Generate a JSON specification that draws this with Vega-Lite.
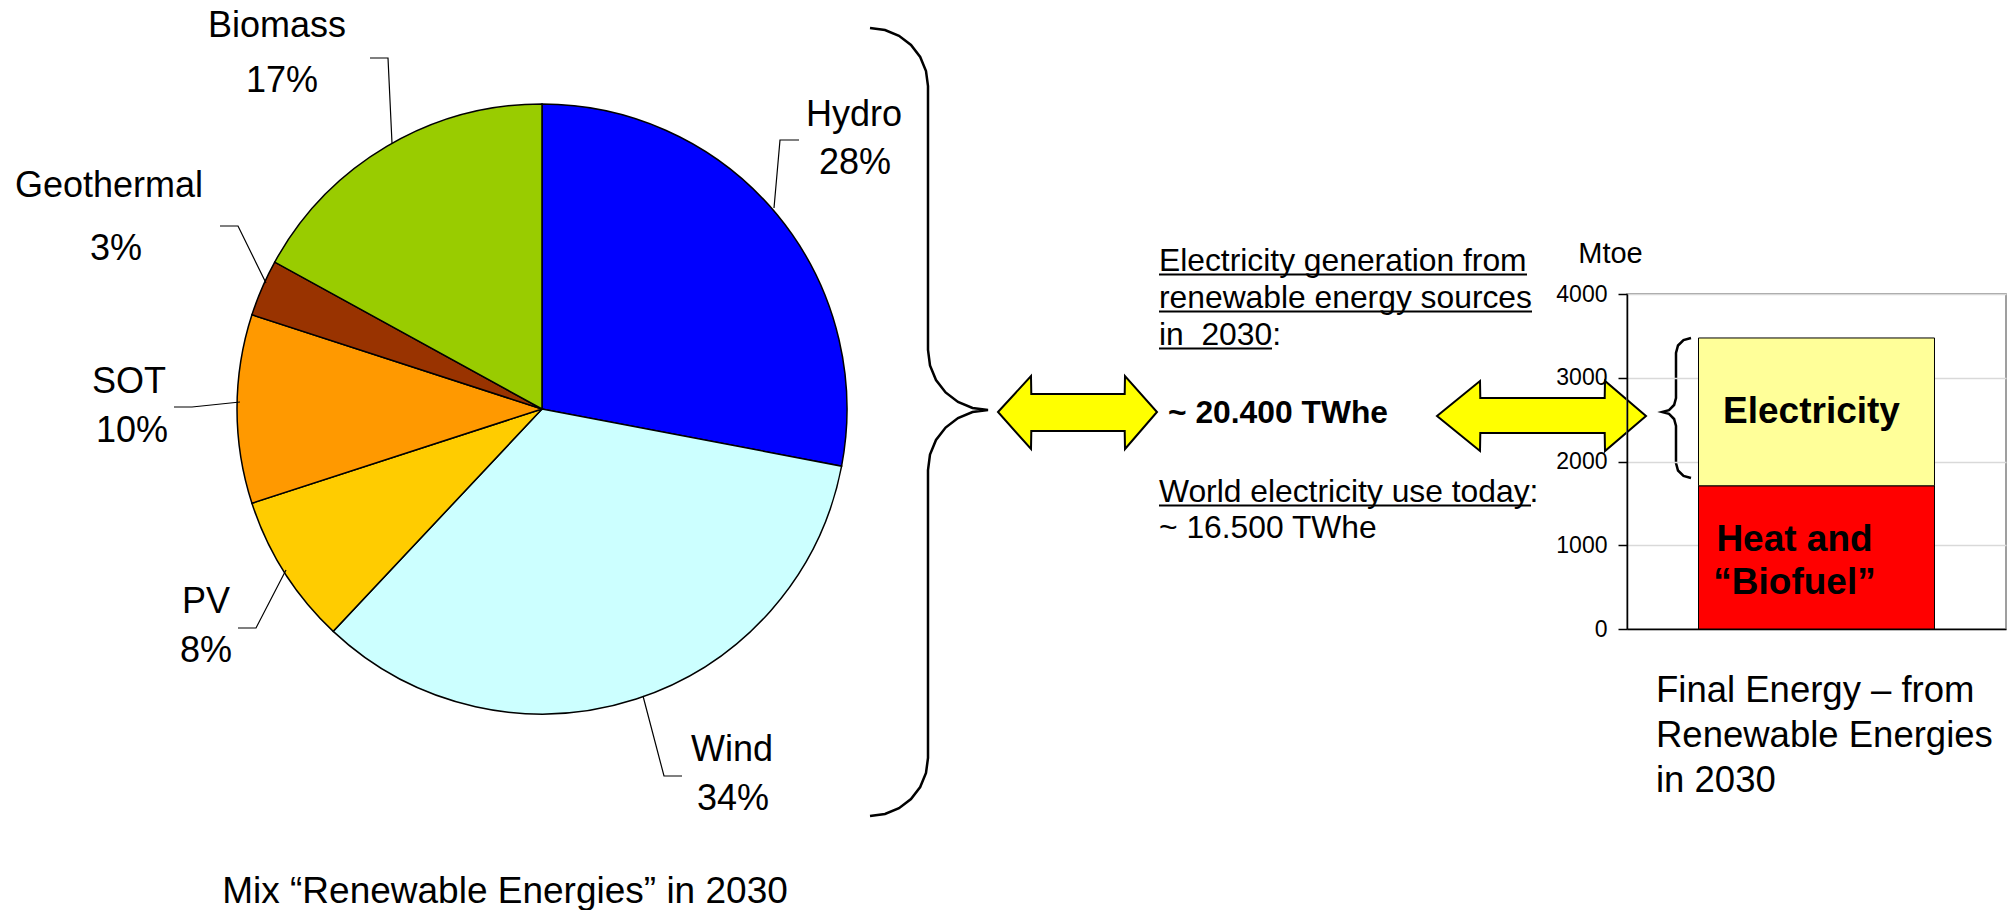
{
  "$schema": "https://vega.github.io/schema/vega-lite/v6.json",
  "background": "white",
  "padding": 0,
  "bounds": "flush",
  "spacing": 543,
  "resolve": {"scale": {"color": "independent"}},
  "config": {"view": {"stroke": null}, "font": "Liberation Sans"},
  "datasets": {
    "mix": [
      {"source": "Hydro", "share": 0.28, "rank": 1},
      {"source": "Wind", "share": 0.34, "rank": 2},
      {"source": "PV", "share": 0.08, "rank": 3},
      {"source": "SOT", "share": 0.10, "rank": 4},
      {"source": "Geothermal", "share": 0.03, "rank": 5},
      {"source": "Biomass", "share": 0.17, "rank": 6}
    ],
    "bar": [
      {"year": "2030", "use": "Heat and “Biofuel”", "label": "Heat and\n“Biofuel”", "mtoe": 1710, "rank": 1},
      {"year": "2030", "use": "Electricity", "label": "Electricity", "mtoe": 1765, "rank": 2}
    ],
    "name_pos": [
      {"source": "Biomass", "x": 277, "y": 26},
      {"source": "Geothermal", "x": 109, "y": 186},
      {"source": "SOT", "x": 129, "y": 382},
      {"source": "PV", "x": 206, "y": 602},
      {"source": "Hydro", "x": 854, "y": 115},
      {"source": "Wind", "x": 732, "y": 750}
    ],
    "pct_pos": [
      {"source": "Biomass", "x": 282, "y": 81},
      {"source": "Geothermal", "x": 116, "y": 249},
      {"source": "SOT", "x": 132, "y": 431},
      {"source": "PV", "x": 206, "y": 651},
      {"source": "Hydro", "x": 855, "y": 163},
      {"source": "Wind", "x": 733, "y": 799}
    ],
    "leaders": [
      {"id": "Biomass", "i": 0, "x": 370, "y": 58}, {"id": "Biomass", "i": 1, "x": 388, "y": 58}, {"id": "Biomass", "i": 2, "x": 392, "y": 143},
      {"id": "Geothermal", "i": 0, "x": 220, "y": 226}, {"id": "Geothermal", "i": 1, "x": 238, "y": 226}, {"id": "Geothermal", "i": 2, "x": 266, "y": 283},
      {"id": "SOT", "i": 0, "x": 174, "y": 407}, {"id": "SOT", "i": 1, "x": 192, "y": 407}, {"id": "SOT", "i": 2, "x": 240, "y": 402},
      {"id": "PV", "i": 0, "x": 238, "y": 628}, {"id": "PV", "i": 1, "x": 256, "y": 628}, {"id": "PV", "i": 2, "x": 286, "y": 570},
      {"id": "Hydro", "i": 0, "x": 799, "y": 140}, {"id": "Hydro", "i": 1, "x": 780, "y": 140}, {"id": "Hydro", "i": 2, "x": 774, "y": 208},
      {"id": "Wind", "i": 0, "x": 682, "y": 776}, {"id": "Wind", "i": 1, "x": 664, "y": 776}, {"id": "Wind", "i": 2, "x": 643, "y": 696}
    ],
    "braces": [
      {"id": "big", "i": 0, "x": 870, "y": 28}, {"id": "big", "i": 1, "x": 885, "y": 30}, {"id": "big", "i": 2, "x": 899, "y": 35.8},
      {"id": "big", "i": 3, "x": 911, "y": 45}, {"id": "big", "i": 4, "x": 920.2, "y": 57}, {"id": "big", "i": 5, "x": 926, "y": 71},
      {"id": "big", "i": 6, "x": 928, "y": 86}, {"id": "big", "i": 7, "x": 928, "y": 350}, {"id": "big", "i": 8, "x": 930, "y": 365.5},
      {"id": "big", "i": 9, "x": 936, "y": 380}, {"id": "big", "i": 10, "x": 945.6, "y": 392.4}, {"id": "big", "i": 11, "x": 958, "y": 402},
      {"id": "big", "i": 12, "x": 972.5, "y": 408}, {"id": "big", "i": 13, "x": 988, "y": 410}, {"id": "big", "i": 14, "x": 972.5, "y": 412},
      {"id": "big", "i": 15, "x": 958, "y": 418}, {"id": "big", "i": 16, "x": 945.6, "y": 427.6}, {"id": "big", "i": 17, "x": 936, "y": 440},
      {"id": "big", "i": 18, "x": 930, "y": 454.5}, {"id": "big", "i": 19, "x": 928, "y": 470}, {"id": "big", "i": 20, "x": 928, "y": 758},
      {"id": "big", "i": 21, "x": 926, "y": 773}, {"id": "big", "i": 22, "x": 920.2, "y": 787}, {"id": "big", "i": 23, "x": 911, "y": 799},
      {"id": "big", "i": 24, "x": 899, "y": 808.2}, {"id": "big", "i": 25, "x": 885, "y": 814}, {"id": "big", "i": 26, "x": 870, "y": 816},
      {"id": "small", "i": 0, "x": 1691, "y": 338}, {"id": "small", "i": 1, "x": 1683.5, "y": 340}, {"id": "small", "i": 2, "x": 1678, "y": 345.5},
      {"id": "small", "i": 3, "x": 1676, "y": 353}, {"id": "small", "i": 4, "x": 1676, "y": 398}, {"id": "small", "i": 5, "x": 1674.1, "y": 405},
      {"id": "small", "i": 6, "x": 1669, "y": 410.1}, {"id": "small", "i": 7, "x": 1662, "y": 412}, {"id": "small", "i": 8, "x": 1669, "y": 413.9},
      {"id": "small", "i": 9, "x": 1674.1, "y": 419}, {"id": "small", "i": 10, "x": 1676, "y": 426}, {"id": "small", "i": 11, "x": 1676, "y": 463},
      {"id": "small", "i": 12, "x": 1678, "y": 470.5}, {"id": "small", "i": 13, "x": 1683.5, "y": 476}, {"id": "small", "i": 14, "x": 1691, "y": 478}
    ],
    "arrows": [
      {"id": "left", "x": 998, "y": 412, "y2": 412}, {"id": "left", "x": 1031, "y": 376, "y2": 449},
      {"id": "left", "x": 1031.3, "y": 394, "y2": 431}, {"id": "left", "x": 1124.7, "y": 394, "y2": 431},
      {"id": "left", "x": 1125, "y": 376, "y2": 449}, {"id": "left", "x": 1157, "y": 412, "y2": 412},
      {"id": "right", "x": 1437, "y": 416, "y2": 416}, {"id": "right", "x": 1480, "y": 381, "y2": 451},
      {"id": "right", "x": 1480.3, "y": 398, "y2": 433}, {"id": "right", "x": 1604.7, "y": 398, "y2": 433},
      {"id": "right", "x": 1605, "y": 381, "y2": 451}, {"id": "right", "x": 1646, "y": 416, "y2": 416}
    ],
    "notes": [
      {"role": "note", "text": "Electricity generation from", "x": 1159, "y": 271},
      {"role": "note", "text": "renewable energy sources", "x": 1159, "y": 308},
      {"role": "note", "text": "in\u00a0\u00a02030:", "x": 1159, "y": 345},
      {"role": "note", "text": "World electricity use today:", "x": 1159, "y": 502},
      {"role": "note", "text": "~ 16.500 TWhe", "x": 1159, "y": 538},
      {"role": "figure", "text": "~ 20.400 TWhe", "x": 1168, "y": 423},
      {"role": "caption_left", "text": "Mix “Renewable Energies” in 2030", "x": 505, "y": 903},
      {"role": "caption_right", "text": "Final Energy – from", "x": 1656, "y": 702},
      {"role": "caption_right", "text": "Renewable Energies", "x": 1656, "y": 747},
      {"role": "caption_right", "text": "in 2030", "x": 1656, "y": 792}
    ],
    "underlines": [
      {"x": 1159, "x2": 1527, "y": 274.5},
      {"x": 1159, "x2": 1532, "y": 311.5},
      {"x": 1159, "x2": 1272, "y": 348.5},
      {"x": 1159, "x2": 1531, "y": 505.5}
    ]
  },
  "hconcat": [
    {
      "width": 1084,
      "height": 818,
      "layer": [
        {
          "data": {"name": "mix"},
          "mark": {"type": "arc", "outerRadius": 305, "stroke": "black", "strokeWidth": 1.5},
          "encoding": {
            "theta": {"field": "share", "type": "quantitative", "stack": true},
            "order": {"field": "rank", "type": "quantitative"},
            "color": {
              "field": "source", "type": "nominal", "legend": null,
              "scale": {
                "domain": ["Hydro", "Wind", "PV", "SOT", "Geothermal", "Biomass"],
                "range": ["#0000FF", "#CCFFFF", "#FFCC00", "#FF9900", "#993300", "#99CC00"]
              }
            }
          }
        },
        {
          "encoding": {
            "x": {"field": "x", "type": "quantitative", "scale": {"domain": [0, 1084], "nice": false, "zero": false}, "axis": null},
            "y": {"field": "y", "type": "quantitative", "scale": {"domain": [0, 818], "nice": false, "zero": false, "reverse": true}, "axis": null}
          },
          "layer": [
            {
              "data": {"name": "leaders"},
              "mark": {"type": "line", "color": "black", "strokeWidth": 1.2},
              "encoding": {"detail": {"field": "id"}, "order": {"field": "i", "type": "quantitative"}}
            },
            {
              "data": {"name": "name_pos"},
              "mark": {"type": "text", "fontSize": 36, "align": "center", "baseline": "middle", "color": "black"},
              "encoding": {"text": {"field": "source"}}
            },
            {
              "data": {"name": "pct_pos"},
              "transform": [{"lookup": "source", "from": {"data": {"name": "mix"}, "key": "source", "fields": ["share"]}}],
              "mark": {"type": "text", "fontSize": 36, "align": "center", "baseline": "middle", "color": "black"},
              "encoding": {"text": {"field": "share", "type": "quantitative", "format": ".0%"}}
            },
            {
              "data": {"name": "braces"},
              "mark": {"type": "line", "color": "black", "strokeWidth": 2.5},
              "encoding": {"detail": {"field": "id"}, "order": {"field": "i", "type": "quantitative"}}
            },
            {
              "data": {"name": "arrows"},
              "mark": {"type": "area", "fill": "#FFFF00", "stroke": "black", "strokeWidth": 2, "opacity": 1, "fillOpacity": 1},
              "encoding": {"y2": {"field": "y2"}, "detail": {"field": "id"}}
            },
            {
              "data": {"name": "underlines"},
              "mark": {"type": "rule", "color": "black", "strokeWidth": 2},
              "encoding": {"x2": {"field": "x2"}}
            },
            {
              "data": {"name": "notes"},
              "transform": [{"filter": "datum.role === 'note'"}],
              "mark": {"type": "text", "fontSize": 31.8, "align": "left", "baseline": "alphabetic", "color": "black"},
              "encoding": {"text": {"field": "text"}}
            },
            {
              "data": {"name": "notes"},
              "transform": [{"filter": "datum.role === 'figure'"}],
              "mark": {"type": "text", "fontSize": 31.8, "fontWeight": "bold", "align": "left", "baseline": "alphabetic", "color": "black"},
              "encoding": {"text": {"field": "text"}}
            },
            {
              "data": {"name": "notes"},
              "transform": [{"filter": "datum.role === 'caption_left'"}],
              "mark": {"type": "text", "fontSize": 37, "align": "center", "baseline": "alphabetic", "color": "black"},
              "encoding": {"text": {"field": "text"}}
            },
            {
              "data": {"name": "notes"},
              "transform": [{"filter": "datum.role === 'caption_right'"}],
              "mark": {"type": "text", "fontSize": 36.5, "align": "left", "baseline": "alphabetic", "color": "black"},
              "encoding": {"text": {"field": "text"}}
            }
          ]
        }
      ]
    },
    {
      "spacing": 0,
      "bounds": "flush",
      "vconcat": [
        {
          "width": 379,
          "height": 294,
          "data": {"values": [{"a": 1}]},
          "mark": {"type": "text", "text": " ", "opacity": 0},
          "encoding": {}
        },
        {
          "width": 379,
          "height": 335,
          "view": {"stroke": "#808080", "strokeWidth": 1.5},
          "data": {"name": "bar"},
          "encoding": {
            "x": {
              "field": "year", "type": "nominal",
              "scale": {"paddingInner": 0, "paddingOuter": 0.303},
              "axis": {"labels": false, "ticks": false, "title": null, "domainColor": "black", "domainWidth": 1.5}
            }
          },
          "layer": [
            {
              "mark": {"type": "bar", "stroke": "black", "strokeWidth": 1},
              "encoding": {
                "y": {
                  "field": "mtoe", "type": "quantitative", "stack": "zero",
                  "scale": {"domain": [0, 4000], "nice": false},
                  "axis": {
                    "values": [0, 1000, 2000, 3000, 4000], "format": "d",
                    "title": "Mtoe", "titleAngle": 0, "titleAlign": "center", "titleBaseline": "alphabetic",
                    "titleX": -17, "titleY": -32, "titleFontSize": 29, "titleFontWeight": "normal",
                    "titleColor": "black", "titleFont": "Liberation Sans",
                    "labelFontSize": 23, "labelColor": "black", "labelFont": "Liberation Sans", "labelPadding": 11,
                    "tickSize": 9, "tickColor": "black", "tickWidth": 1.5,
                    "domainColor": "black", "domainWidth": 1.5,
                    "grid": true, "gridColor": "#D9D9D9", "gridWidth": 1.5
                  }
                },
                "color": {
                  "field": "use", "type": "nominal", "legend": null,
                  "scale": {"domain": ["Heat and “Biofuel”", "Electricity"], "range": ["#FF0000", "#FFFF99"]}
                },
                "order": {"field": "rank", "type": "quantitative"}
              }
            },
            {
              "transform": [
                {"stack": "mtoe", "groupby": ["year"], "sort": [{"field": "rank", "order": "ascending"}], "as": ["lo", "hi"]},
                {"calculate": "(datum.lo + datum.hi) / 2", "as": "mid"},
                {"filter": "datum.rank === 2"}
              ],
              "mark": {"type": "text", "font": "Liberation Sans", "fontWeight": "bold", "fontSize": 37, "align": "center", "baseline": "middle", "color": "black", "dx": -5},
              "encoding": {
                "y": {"field": "mid", "type": "quantitative", "title": "Mtoe"},
                "text": {"field": "label"}
              }
            },
            {
              "transform": [
                {"stack": "mtoe", "groupby": ["year"], "sort": [{"field": "rank", "order": "ascending"}], "as": ["lo", "hi"]},
                {"calculate": "(datum.lo + datum.hi) / 2", "as": "mid"},
                {"filter": "datum.rank === 1"}
              ],
              "mark": {"type": "text", "font": "Liberation Sans", "fontWeight": "bold", "fontSize": 37, "align": "center", "baseline": "middle", "color": "black", "dx": -22, "dy": -17, "lineBreak": "\n", "lineHeight": 43},
              "encoding": {
                "y": {"field": "mid", "type": "quantitative", "title": "Mtoe"},
                "text": {"field": "label"}
              }
            }
          ]
        }
      ]
    }
  ]
}
